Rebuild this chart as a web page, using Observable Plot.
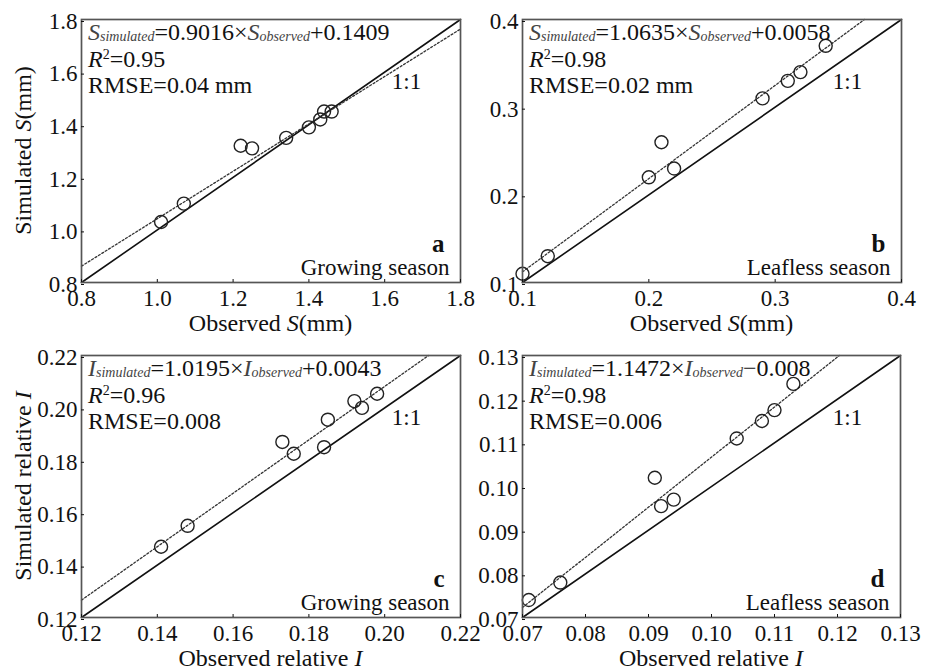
<!DOCTYPE html>
<html><head><meta charset="utf-8">
<script src="https://cdn.jsdelivr.net/npm/d3@7"></script>
<script src="https://cdn.jsdelivr.net/npm/@observablehq/plot@0.6"></script>
<style>
body{margin:0;background:#fff;}
#wrap{position:relative;width:935px;height:670px;overflow:hidden;font-family:"Liberation Serif","Times New Roman",serif;}
.panel{position:absolute;}
.panel svg{overflow:visible;}
</style></head><body><div id="wrap"></div>
<script>
// ---------- data ----------
const aObserved = [1.01, 1.07, 1.22, 1.25, 1.34, 1.40, 1.43, 1.44, 1.46];
const aSimulated = [1.03, 1.10, 1.32, 1.31, 1.35, 1.39, 1.42, 1.45, 1.45];
const bObserved = [0.10, 0.12, 0.20, 0.21, 0.22, 0.29, 0.31, 0.32, 0.34];
const bSimulated = [0.11, 0.13, 0.22, 0.26, 0.23, 0.31, 0.33, 0.34, 0.37];
const cObserved = [0.141, 0.148, 0.173, 0.176, 0.184, 0.185, 0.192, 0.194, 0.198];
const cSimulated = [0.147, 0.155, 0.187, 0.1825, 0.185, 0.1955, 0.2026, 0.200, 0.2054];
const dObserved = [0.071, 0.076, 0.091, 0.092, 0.094, 0.104, 0.108, 0.110, 0.113];
const dSimulated = [0.074, 0.078, 0.102, 0.0955, 0.097, 0.111, 0.115, 0.1175, 0.1235];

const fitSlopes = [0.9016, 1.0635, 1.0195, 1.1472];
const fitIntercepts = [0.1409, 0.0058, 0.0043, -0.008];
const fitSlopeText = ["0.9016", "1.0635", "1.0195", "1.1472"];
const fitInterceptText = ["+0.1409", "+0.0058", "+0.0043", "\u22120.008"];
const r2Text = ["0.95", "0.98", "0.96", "0.98"];
const rmseText = ["0.04 mm", "0.02 mm", "0.008", "0.006"];
const varSymbol = ["S", "S", "I", "I"];
const panelLetters = ["a", "b", "c", "d"];
const seasons = ["Growing season", "Leafless season", "Growing season", "Leafless season"];

const aTicks = [0.8, 1.0, 1.2, 1.4, 1.6, 1.8];
const bTicks = [0.1, 0.2, 0.3, 0.4];
const cTicks = [0.12, 0.14, 0.16, 0.18, 0.20, 0.22];
const dTicks = [0.07, 0.08, 0.09, 0.10, 0.11, 0.12, 0.13];
const tickDecimals = [1, 1, 2, 2];

const xLabels = [["Observed ", "S", "(mm)"], ["Observed ", "S", "(mm)"], ["Observed relative ", "I", ""], ["Observed relative ", "I", ""]];
const yLabels = [["Simulated ", "S", "(mm)"], null, ["Simulated relative ", "I", ""], null];

// ---------- layout ----------
const layout = [
  {left: 0, top: 0, mL: 81, mR: 7, mT: 19, mB: 53},
  {left: 467, top: 0, mL: 55, mR: 33, mT: 19, mB: 53},
  {left: 0, top: 335, mL: 81, mR: 7, mT: 20, mB: 53},
  {left: 467, top: 335, mL: 55, mR: 34, mT: 20, mB: 53}
];
const W = 467, H = 335;
const FONT = '"Liberation Serif","Times New Roman",serif';

const observedSets = [aObserved, bObserved, cObserved, dObserved];
const simulatedSets = [aSimulated, bSimulated, cSimulated, dSimulated];
const tickSets = [aTicks, bTicks, cTicks, dTicks];

function rich(sel, x, y, parts, size, anchor) {
  const t = sel.append("text").attr("x", x).attr("y", y)
    .attr("font-family", FONT).attr("font-size", size).attr("fill", "#111")
    .attr("text-anchor", anchor || "start");
  parts.forEach(p => {
    const ts = t.append("tspan").text(p.t);
    if (p.i) ts.attr("font-style", "italic");
    if (p.sub) ts.attr("font-size", 14).attr("baseline-shift", "-1");
    if (p.sup) ts.attr("font-size", 14).attr("baseline-shift", "8");
    if (p.c) ts.attr("fill", p.c);
  });
  return t;
}

const wrap = document.getElementById("wrap");
for (let k = 0; k < 4; k++) {
  const L = layout[k];
  const ticks = tickSets[k];
  const lo = ticks[0], hi = ticks[ticks.length - 1];
  const pts = observedSets[k].map((o, i) => ({o, s: simulatedSets[k][i]}));
  const m = fitSlopes[k], b = fitIntercepts[k];
  const xEnd = Math.min(hi, (hi - b) / m);
  const fit = [{o: lo, s: m * lo + b}, {o: xEnd, s: m * xEnd + b}];
  const one = [{o: lo, s: lo}, {o: hi, s: hi}];
  const fmt = d3.format("." + tickDecimals[k] + "f");

  const svg = Plot.plot({
    width: W, height: H,
    marginLeft: L.mL, marginRight: L.mR, marginTop: L.mT, marginBottom: L.mB,
    x: {domain: [lo, hi]},
    y: {domain: [lo, hi]},
    style: {fontFamily: FONT, fontSize: "23px", color: "#111", background: "transparent", overflow: "visible"},
    marks: [
      Plot.line(one, {x: "o", y: "s", stroke: "#111", strokeWidth: 1.6}),
      Plot.line(fit, {x: "o", y: "s", stroke: "#333", strokeWidth: 1.3, strokeDasharray: "2,2"}),
      Plot.dot(pts, {x: "o", y: "s", r: 6.5, stroke: "#222", strokeWidth: 1.4, fill: "none"}),
      Plot.frame({stroke: "#555", strokeWidth: 1.7}),
      Plot.axisX(ticks, {tickFormat: fmt, tickSize: -3, tickPadding: 10, label: null, fontSize: 23}),
      Plot.axisY(ticks, {tickFormat: fmt, tickSize: -3, tickPadding: 7, label: null, fontSize: 23, dy: 2}),
      Plot.text(["1:1"], {frameAnchor: "top-left", dx: 325, dy: 69, lineAnchor: "bottom", textAnchor: "middle", fontSize: 23, fill: "#111"}),
      Plot.text([panelLetters[k]], {frameAnchor: "bottom-right", dx: -16, dy: -31, lineAnchor: "bottom", textAnchor: "end", fontSize: 25, fontWeight: "bold", fill: "#111"}),
      Plot.text([seasons[k]], {frameAnchor: "bottom-right", dx: -11, dy: -8, lineAnchor: "bottom", textAnchor: "end", fontSize: 23, fill: "#111"})
    ]
  });

  const g = d3.select(svg).append("g");
  const px = L.mL + 7, py = L.mT;
  const v = varSymbol[k];
  rich(g, px, py + 21, [
    {t: v, i: true, c: "#444"}, {t: "simulated", i: true, sub: true, c: "#444"},
    {t: "=" + fitSlopeText[k] + "\u00d7"},
    {t: v, i: true, c: "#444"}, {t: "observed", i: true, sub: true, c: "#444"},
    {t: fitInterceptText[k]}
  ], 24);
  rich(g, px, py + 48, [{t: "R", i: true}, {t: "2", sup: true}, {t: "=" + r2Text[k]}], 24);
  rich(g, px, py + 74, [{t: "RMSE=" + rmseText[k]}], 24);

  const plotW = W - L.mL - L.mR, plotH = H - L.mT - L.mB;
  const xl = xLabels[k];
  rich(g, L.mL + plotW / 2, L.mT + plotH + 49, [{t: xl[0]}, {t: xl[1], i: true}, {t: xl[2]}], 24, "middle");
  const yl = yLabels[k];
  if (yl) {
    const t = rich(g, 0, 0, [{t: yl[0]}, {t: yl[1], i: true}, {t: yl[2]}], 24, "middle");
    t.attr("transform", `translate(${L.mL - 50},${L.mT + plotH / 2}) rotate(-90)`);
  }

  const div = document.createElement("div");
  div.className = "panel";
  div.style.left = L.left + "px";
  div.style.top = L.top + "px";
  div.appendChild(svg);
  wrap.appendChild(div);
}
</script></body></html>
